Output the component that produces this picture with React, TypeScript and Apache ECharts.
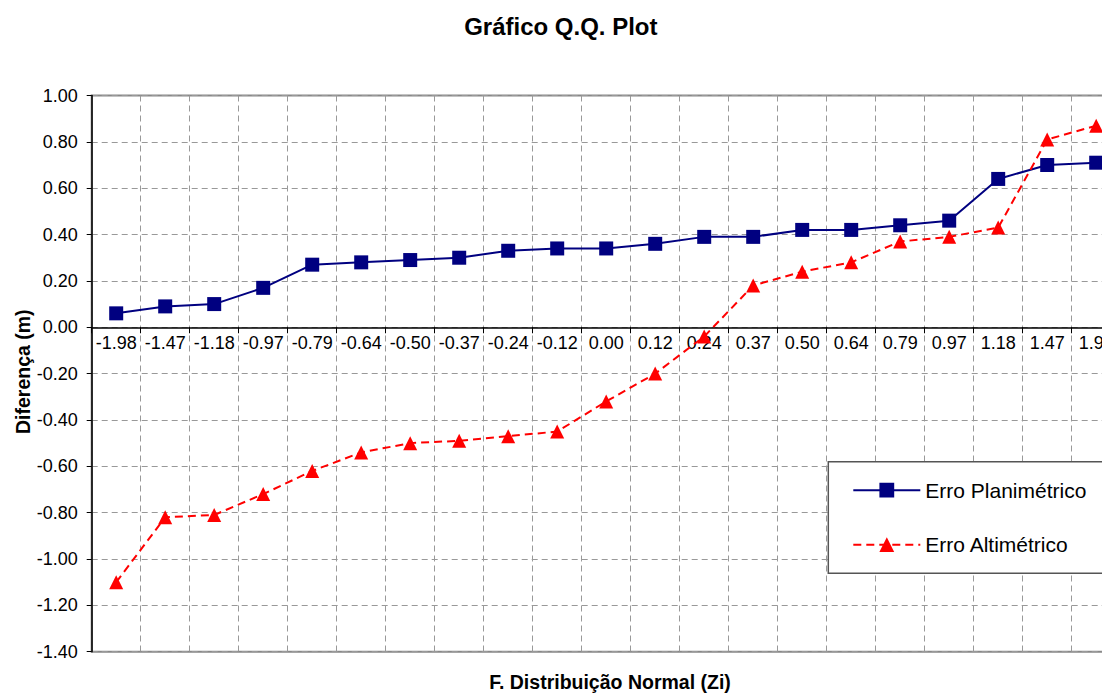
import React, { useEffect, useRef } from "react";
import * as echarts from "echarts";

const categories = [
  "-1.98", "-1.47", "-1.18", "-0.97", "-0.79", "-0.64", "-0.50", "-0.37", "-0.24", "-0.12",
  "0.00", "0.12", "0.24", "0.37", "0.50", "0.64", "0.79", "0.97", "1.18", "1.47", "1.98",
];
const planimetrico = [
  0.06, 0.09, 0.10, 0.17, 0.27, 0.28, 0.29, 0.30, 0.33, 0.34,
  0.34, 0.36, 0.39, 0.39, 0.42, 0.42, 0.44, 0.46, 0.64, 0.70, 0.71,
];
const altimetrico = [
  -1.10, -0.82, -0.81, -0.72, -0.62, -0.54, -0.50, -0.49, -0.47, -0.45,
  -0.32, -0.20, -0.04, 0.18, 0.24, 0.28, 0.37, 0.39, 0.43, 0.81, 0.87,
];
const seriesNames = ["Erro Planimétrico", "Erro Altimétrico"];
const titleText = "Gráfico Q.Q. Plot";
const yAxisName = "Diferença (m)";
const xAxisName = "F. Distribuição Normal (Zi)";
const yMin = -1.4;
const yMax = 1.0;
const yStep = 0.2;

const FONT = '"Liberation Sans", Arial, sans-serif';

const GRID_TOP = 87.5;
const GRID_BOTTOM = 41.3;
const CHART_H = 685;

export default function App() {
  const ref = useRef<HTMLDivElement>(null);
  useEffect(() => {
    document.body.style.overflow = "hidden";
    document.documentElement.style.overflow = "hidden";
    if (!ref.current) return;
    const chart = echarts.init(ref.current, undefined, { renderer: "svg" });
    const plotH = CHART_H - GRID_TOP - GRID_BOTTOM;
    // distance from bottom of plot to the zero line (x axis sits on y = 0)
    const zeroOffset = ((0 - yMin) / (yMax - yMin)) * plotH;
    chart.setOption({
      animation: false,
      backgroundColor: "#fff",
      textStyle: { fontFamily: FONT },
      grid: {
        left: 83.7,
        top: GRID_TOP,
        right: 17.3,
        bottom: GRID_BOTTOM,
        show: true,
        borderColor: "#888",
        borderWidth: 2,
        backgroundColor: "transparent",
      },
      graphic: [
        {
          type: "text",
          x: 552.8,
          y: 18.7,
          style: {
            text: titleText,
            font: `bold 24px ${FONT}`,
            fill: "#000",
            align: "center",
            verticalAlign: "middle",
          },
        },
        {
          type: "text",
          x: 15,
          y: 363.7,
          rotation: Math.PI / 2,
          style: {
            text: yAxisName,
            font: `bold 19.5px ${FONT}`,
            fill: "#000",
            align: "center",
            verticalAlign: "middle",
          },
        },
        {
          type: "text",
          x: 602,
          y: 673.5,
          style: {
            text: xAxisName,
            font: `bold 19.5px ${FONT}`,
            fill: "#000",
            align: "center",
            verticalAlign: "middle",
          },
        },
      ],
      legend: {
        orient: "vertical",
        left: 820.3,
        top: 453.7,
        padding: [18, 17, 18, 24],
        itemWidth: 67,
        itemHeight: 18.5,
        itemGap: 33.5,
        borderColor: "#555",
        borderWidth: 1.5,
        borderRadius: 0,
        backgroundColor: "#fff",
        textStyle: { fontSize: 21, color: "#000", fontFamily: FONT },
        data: seriesNames,
      },
      xAxis: {
        type: "category",
        data: categories,
        boundaryGap: true,
        offset: -zeroOffset,
        axisLine: { onZero: false, lineStyle: { color: "#000", width: 1.5 } },
        axisTick: { show: true, length: 6, interval: 0, lineStyle: { color: "#000" } },
        axisLabel: { color: "#000", fontSize: 18, margin: 7, interval: 0, fontFamily: FONT },
        splitLine: { show: true, interval: 0, lineStyle: { color: "#999", type: [6, 4] } },
      },
      yAxis: {
        type: "value",
        min: yMin,
        max: yMax,
        interval: yStep,
        axisLine: { show: true, lineStyle: { color: "#000", width: 1.5 } },
        axisTick: { show: true, length: 5, lineStyle: { color: "#000" } },
        axisLabel: {
          color: "#000",
          fontSize: 18,
          margin: 14,
          fontFamily: FONT,
          formatter: (v: number) => (Math.abs(v) < 1e-9 ? 0 : v).toFixed(2),
        },
        splitLine: { show: true, lineStyle: { color: "#999", type: [6, 4] } },
      },
      series: [
        {
          name: seriesNames[0],
          type: "line",
          data: planimetrico,
          symbol: "rect",
          symbolSize: 14,
          itemStyle: { color: "#000080" },
          lineStyle: { color: "#000080", width: 2 },
        },
        {
          name: seriesNames[1],
          type: "line",
          data: altimetrico,
          symbol: "triangle",
          symbolSize: 14,
          itemStyle: { color: "#ff0000" },
          lineStyle: { color: "#ff0000", width: 2, type: [8, 5] },
        },
      ],
    });
    return () => chart.dispose();
  }, []);
  return (
    <div style={{ width: 1102, height: CHART_H, overflow: "hidden" }}>
      <div ref={ref} style={{ width: 1130, height: CHART_H }} />
    </div>
  );
}
